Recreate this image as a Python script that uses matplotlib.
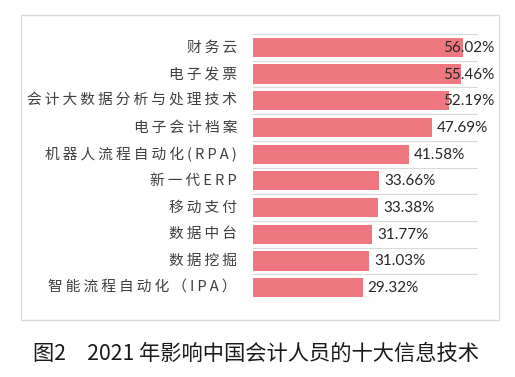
import matplotlib
matplotlib.use("Agg")
import matplotlib.pyplot as plt
from matplotlib.patches import Rectangle

categories = ["财务云", "电子发票", "会计大数据分析与处理技术", "电子会计档案",
              "机器人流程自动化(RPA)", "新一代ERP", "移动支付", "数据中台",
              "数据挖掘", "智能流程自动化（IPA）"]
values = [56.02, 55.46, 52.19, 47.69, 41.58, 33.66, 33.38, 31.77, 31.03, 29.32]
caption = "图2　2021 年影响中国会计人员的十大信息技术"

W, H = 515, 377
fig = plt.figure(figsize=(W / 100, H / 100), dpi=100)
fig.patch.set_facecolor("white")

# outer frame
fig.patches.append(Rectangle((21 / W, 1 - 320 / H), (499 - 21) / W, (320 - 15) / H,
                             transform=fig.transFigure, fill=False,
                             edgecolor="#d9d9d9", linewidth=1.0))

ax_l, ax_r, ax_t, ax_b = 253, 478, 34, 301
ax = fig.add_axes([ax_l / W, 1 - ax_b / H, (ax_r - ax_l) / W, (ax_b - ax_t) / H])
xmax = 60
ax.set_xlim(0, xmax)
n = len(categories)
ax.set_ylim(n - 0.5, -0.5)

ys = list(range(n))
ax.barh(ys, values, height=0.72, color="#EF7880", zorder=2)

for b in range(n + 1):
    ax.axhline(b - 0.5, color="#d9d9d9", linewidth=0.8, zorder=1)

for s in ax.spines.values():
    s.set_visible(False)
ax.set_xticks([])
ax.set_yticks([])

px_per = (ax_r - ax_l) / xmax
right_limit = (494 - ax_l) / px_per
for y, v in zip(ys, values):
    xr = min(v + 56 / px_per, right_limit)
    ax.text(xr, y + 0.02, f"{v:.2f}%", ha="right", va="center", fontsize=11,
            family=["Lato", "DejaVu Sans"], color="#262626", zorder=3, clip_on=False)

for y, c in zip(ys, categories):
    spaced = "\u2009".join(c)
    ax.text((237 - ax_l) / px_per, y, spaced, ha="right", va="center", fontsize=10.6,
            family=["Noto Sans CJK SC", "DejaVu Sans"], color="#404040", clip_on=False)

fig.text(33 / W, 1 - 354 / H, caption, ha="left", va="center", fontsize=15.3,
         family=["Noto Sans CJK SC", "DejaVu Sans"], color="#1a1a1a")

fig.savefig("out.png", dpi=100, facecolor="white")
